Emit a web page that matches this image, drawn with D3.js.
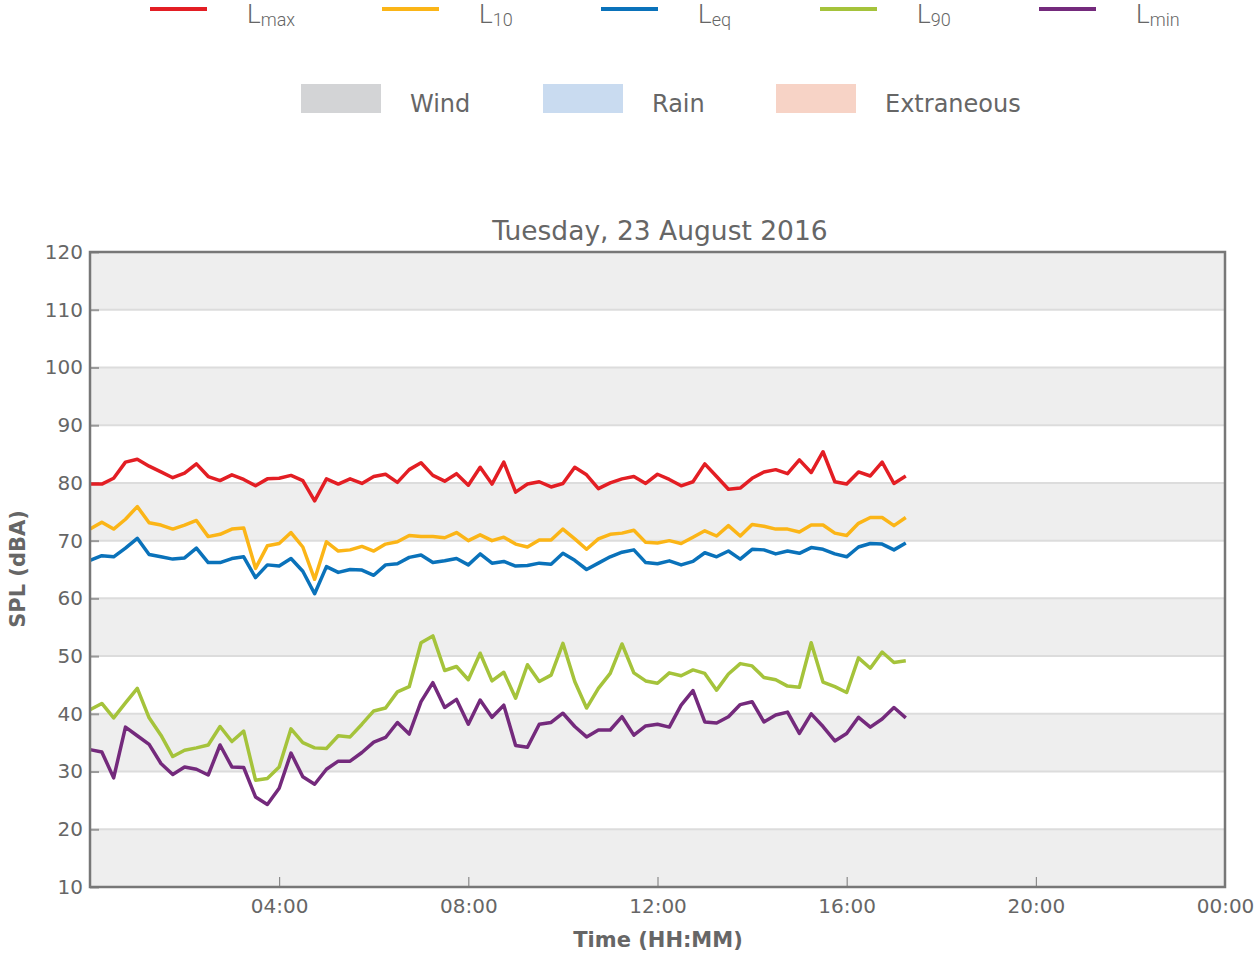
<!DOCTYPE html>
<html>
<head>
<meta charset="utf-8">
<script src="https://cdn.jsdelivr.net/npm/d3@7"></script>
<style>
  body { margin: 0; background: #fff; }
  svg text { font-family: "DejaVu Sans", sans-serif; fill: #666; }
</style>
</head>
<body>
<div id="chart"></div>
<script>
// 15 minute readings, 23 Aug 2016 from 00:00
var startTime = new Date(2016, 7, 23, 0, 0);
var stepMinutes = 15;

var Lmax = [79.8,79.8,80.8,83.6,84.1,82.9,81.9,80.9,81.7,83.3,81.1,80.4,81.4,80.6,79.5,80.7,80.8,81.3,80.4,76.9,
            80.7,79.8,80.7,79.9,81.1,81.5,80.1,82.3,83.5,81.3,80.3,81.6,79.6,82.7,79.8,83.6,78.4,79.8,80.2,79.3,
            79.9,82.7,81.4,79.0,80.0,80.7,81.1,79.9,81.5,80.6,79.5,80.2,83.3,81.1,78.9,79.1,80.8,81.9,82.3,81.6,
            84.0,81.8,85.4,80.2,79.8,81.9,81.2,83.6,79.9,81.2];
var L10 = [72.0,73.2,72.0,73.7,75.9,73.1,72.7,72.0,72.7,73.5,70.7,71.1,72.0,72.2,65.2,69.1,69.5,71.4,68.9,63.3,
           69.8,68.2,68.4,69.0,68.2,69.4,69.8,70.9,70.7,70.7,70.5,71.4,70.0,71.0,70.0,70.6,69.4,68.9,70.1,70.1,
           72.0,70.3,68.5,70.3,71.1,71.3,71.8,69.7,69.6,70.0,69.5,70.6,71.7,70.8,72.6,70.8,72.8,72.5,72.0,72.0,
           71.5,72.7,72.7,71.3,70.9,73.0,74.0,74.0,72.6,74.0];
var Leq = [66.6,67.4,67.2,68.7,70.4,67.6,67.2,66.8,67.0,68.7,66.2,66.2,66.9,67.2,63.6,65.8,65.6,66.9,64.7,60.8,
           65.5,64.5,65.0,64.9,64.0,65.8,66.0,67.1,67.5,66.2,66.5,66.9,65.8,67.7,66.1,66.4,65.6,65.7,66.1,65.9,
           67.8,66.6,65.0,66.1,67.2,68.0,68.4,66.2,66.0,66.5,65.8,66.4,67.9,67.2,68.2,66.8,68.5,68.4,67.7,68.2,
           67.8,68.8,68.5,67.7,67.2,68.9,69.5,69.4,68.4,69.6];
var L90 = [40.7,41.8,39.3,41.9,44.4,39.3,36.3,32.6,33.7,34.1,34.6,37.8,35.2,37.0,28.5,28.8,30.8,37.4,35.0,34.1,
           34.0,36.2,36.0,38.2,40.5,41.0,43.8,44.7,52.3,53.5,47.5,48.2,45.9,50.5,45.7,47.2,42.7,48.5,45.6,46.7,
           52.2,45.6,41.0,44.4,47.0,52.1,47.1,45.7,45.3,47.1,46.6,47.6,47.0,44.1,46.9,48.7,48.3,46.3,45.9,44.8,
           44.6,52.3,45.5,44.7,43.7,49.7,47.9,50.7,48.9,49.2];
var Lmin = [33.8,33.4,28.9,37.7,36.2,34.7,31.4,29.5,30.8,30.4,29.4,34.6,30.8,30.7,25.6,24.3,27.1,33.2,29.1,27.8,
            30.4,31.8,31.8,33.3,35.1,35.9,38.5,36.5,42.1,45.4,41.1,42.5,38.2,42.4,39.4,41.5,34.5,34.2,38.2,38.5,
            40.1,37.8,36.0,37.2,37.2,39.5,36.3,37.9,38.2,37.7,41.5,44.0,38.6,38.4,39.5,41.6,42.1,38.6,39.8,40.3,
            36.6,40.0,37.8,35.3,36.6,39.4,37.7,39.1,41.1,39.3];

var seriesNames = ["max", "10", "eq", "90", "min"];
var seriesColors = ["#e31e24", "#fbb517", "#0a72ba", "#a5c33b", "#742a7c"];
var seriesData = [Lmax, L10, Leq, L90, Lmin];

var flagNames = ["Wind", "Rain", "Extraneous"];
var flagColors = ["#d3d4d6", "#c9dbf0", "#f7d3c6"];

var yTicks = [10, 20, 30, 40, 50, 60, 70, 80, 90, 100, 110, 120];

var W = 1255, H = 960;
var margin = {top: 252, right: 30, bottom: 73, left: 90};
var width = W - margin.left - margin.right;
var height = H - margin.top - margin.bottom;

var svg = d3.select("#chart").append("svg")
    .attr("width", W)
    .attr("height", H);

var x = d3.scaleTime()
    .domain([startTime, d3.timeDay.offset(startTime, 1)])
    .range([0, width]);
var y = d3.scaleLinear()
    .domain([10, 120])
    .range([height, 0]);

// legend row 1: lines
var lg = svg.append("g");
var lineKeyX = [150, 382, 601, 820, 1039];
seriesNames.forEach(function(n, i){
  var gx = lineKeyX[i];
  lg.append("rect")
    .attr("x", gx).attr("y", 7)
    .attr("width", 57).attr("height", 4)
    .attr("fill", seriesColors[i]);
  var t = lg.append("text")
    .attr("x", gx + 97).attr("y", 23)
    .style("font-family", "Roboto, sans-serif")
    .style("font-weight", 300)
    .style("font-size", "26px");
  t.append("tspan").text("L");
  t.append("tspan").attr("dy", 3).style("font-size", "18px").text(n);
});

// legend row 2: flag boxes
flagNames.forEach(function(n, i){
  var gx = [301, 543, 776][i];
  lg.append("rect")
    .attr("x", gx).attr("y", 84)
    .attr("width", 80).attr("height", 29)
    .attr("fill", flagColors[i]);
  lg.append("text")
    .attr("x", gx + 109).attr("y", 112)
    .style("font-size", "24px")
    .text(n);
});

var g = svg.append("g")
    .attr("transform", "translate(" + margin.left + "," + margin.top + ")");

// alternating bands
d3.range(10, 120, 10).forEach(function(v, i){
  g.append("rect")
    .attr("x", 0).attr("y", y(v + 10))
    .attr("width", width).attr("height", y(v) - y(v + 10))
    .attr("fill", i % 2 == 0 ? "#eeeeee" : "#ffffff");
});

// grid lines
g.append("g").selectAll("line")
  .data(yTicks.slice(1, -1))
  .join("line")
    .attr("x1", 0).attr("x2", width)
    .attr("y1", d => y(d)).attr("y2", d => y(d))
    .attr("stroke", "#dcdcdc")
    .attr("stroke-width", 2);

var yAxis = g.append("g")
  .call(d3.axisLeft(y).tickValues(yTicks).tickSize(-9).tickPadding(7));
yAxis.select(".domain").remove();
yAxis.selectAll(".tick line").attr("stroke", "#999").attr("stroke-width", 2);
yAxis.selectAll("text").style("font-size", "20px").attr("fill", "#666");

var xTicks = d3.range(4, 25, 4).map(h => d3.timeHour.offset(startTime, h));
var xAxis = g.append("g")
  .attr("transform", "translate(0," + height + ")")
  .call(d3.axisBottom(x).tickValues(xTicks).tickFormat(d3.timeFormat("%H:%M")).tickSize(-10).tickPadding(12));
xAxis.select(".domain").remove();
xAxis.selectAll(".tick line").attr("stroke", "#777").attr("stroke-width", 1);
xAxis.selectAll("text").style("font-size", "20px").attr("fill", "#666");

// series lines
var line = d3.line()
  .x((d, i) => x(d3.timeMinute.offset(startTime, i * stepMinutes)))
  .y(d => y(d));
seriesData.forEach(function(s, i){
  g.append("path")
    .datum(s)
    .attr("fill", "none")
    .attr("stroke", seriesColors[i])
    .attr("stroke-width", 3.5)
    .attr("stroke-linejoin", "round")
    .attr("d", line);
});

// frame
g.append("rect")
  .attr("x", 0).attr("y", 0)
  .attr("width", width).attr("height", height)
  .attr("fill", "none")
  .attr("stroke", "#777")
  .attr("stroke-width", 2.5);

// title and axis labels
svg.append("text")
  .attr("x", 660).attr("y", 240)
  .attr("text-anchor", "middle")
  .style("font-size", "26.5px")
  .text("Tuesday, 23 August 2016");

svg.append("text")
  .attr("x", 658).attr("y", 947)
  .attr("text-anchor", "middle")
  .style("font-size", "21px").style("font-weight", "bold")
  .text("Time (HH:MM)");

svg.append("text")
  .attr("transform", "translate(25," + 569 + ") rotate(-90)")
  .attr("text-anchor", "middle")
  .style("font-size", "21px").style("font-weight", "bold")
  .text("SPL (dBA)");
</script>
</body>
</html>
